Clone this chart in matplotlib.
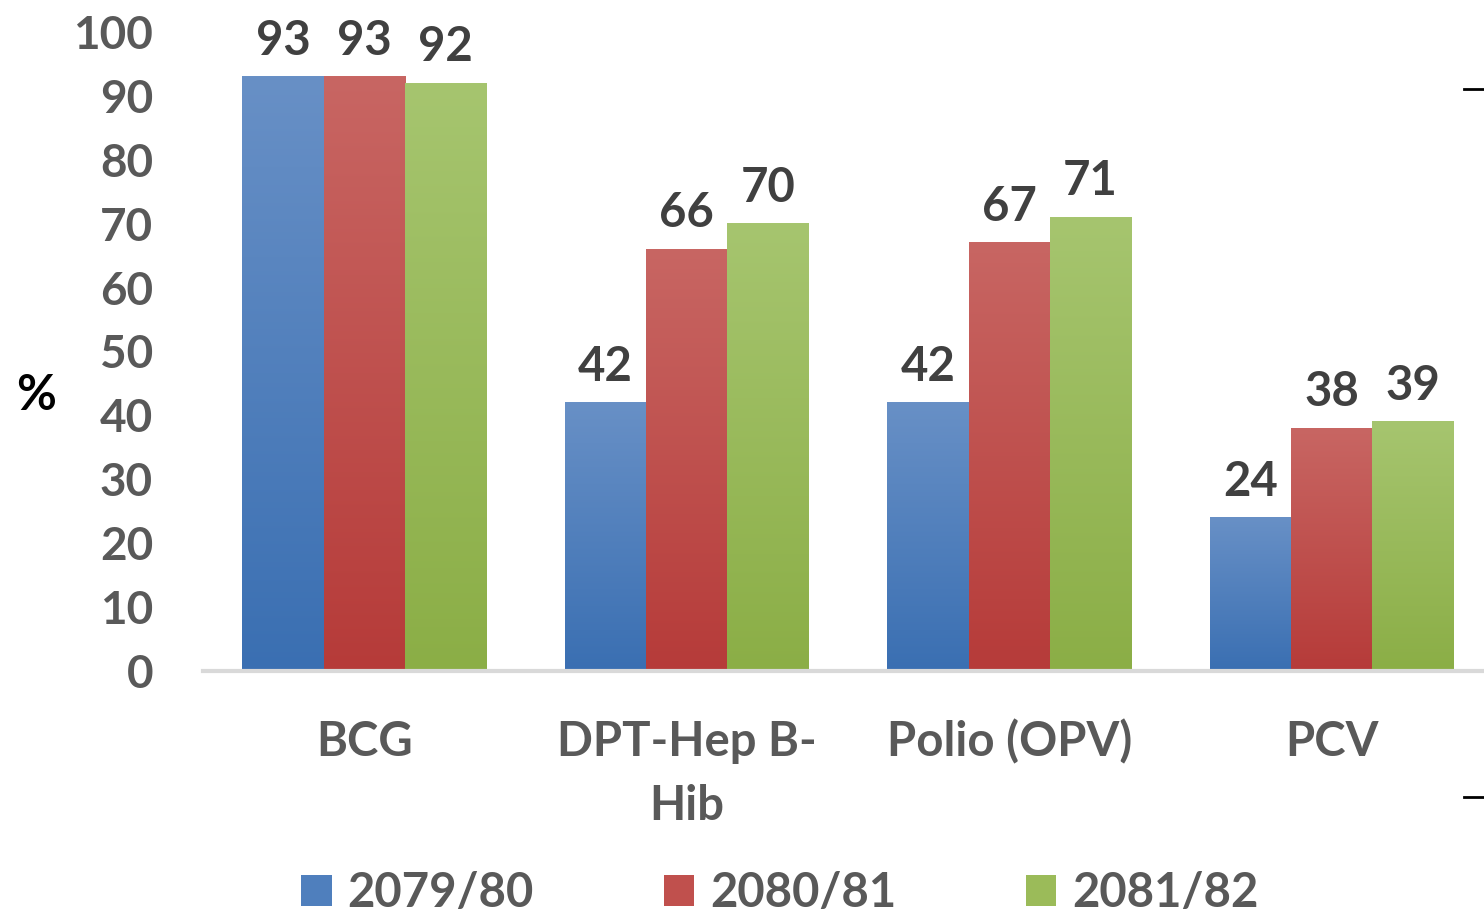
import numpy as np
import matplotlib.pyplot as plt
from matplotlib.colors import LinearSegmentedColormap
from matplotlib.patches import Patch

plt.rcParams['font.family'] = ['Lato', 'DejaVu Sans']
plt.rcParams['font.weight'] = 'bold'

categories = ['BCG', 'DPT-Hep B-\nHib', 'Polio (OPV)', 'PCV']
years = ['2079/80', '2080/81', '2081/82']
v2079 = [93, 42, 42, 24]
v2080 = [93, 66, 67, 38]
v2081 = [92, 70, 71, 39]
yticks = [0, 10, 20, 30, 40, 50, 60, 70, 80, 90, 100]

# top colour, bottom colour for each series
grads = [('#6890c6', '#3a6fb2'), ('#c86663', '#b63b39'), ('#a6c56f', '#8bae46')]
mids = ['#4f7fbd', '#c0504d', '#9bbb59']

fig = plt.figure(figsize=(14.84, 9.16), dpi=100)
ax = fig.add_axes([203 / 1484, (916 - 671) / 916, (1484 - 203) / 1484, 639 / 916])

w = 0.252
x = np.arange(len(categories))
grad = np.linspace(1, 0, 256).reshape(-1, 1)
for i, vals in enumerate([v2079, v2080, v2081]):
    cmap = LinearSegmentedColormap.from_list('g%d' % i, [grads[i][1], grads[i][0]])
    for xc, v in zip(x + (i - 1) * w, vals):
        ax.imshow(grad, extent=(xc - w / 2, xc + w / 2, 0, v), aspect='auto',
                  cmap=cmap, vmin=0, vmax=1, zorder=2)
        ax.annotate(str(v), (xc, v), xytext=(0, 10), textcoords='offset points',
                    ha='center', va='bottom', fontsize=34, fontweight='bold',
                    color='#404040')

ax.set_xlim(-0.5, 3.5 - 9 / 322.5)
ax.set_ylim(0, 100)
ax.set_yticks(yticks)
ax.tick_params(axis='y', length=0, labelsize=33, labelcolor='#595959', pad=36)
ax.set_xticks(x)
ax.set_xticklabels(categories, fontsize=34, color='#595959', linespacing=1.57)
ax.tick_params(axis='x', length=0, pad=35)
for s in ax.spines.values():
    s.set_visible(False)
ax.axhline(0, color='#d9d9d9', lw=3, zorder=3, clip_on=False)

fig.text(36 / 1484, 1 - 395 / 916, '%', fontsize=35, fontweight='bold',
         color='black', ha='center', va='center')

handles = [Patch(facecolor=c, edgecolor='none') for c in mids]
fig.legend(handles, years, loc='center', bbox_to_anchor=(780 / 1484, 1 - 893 / 916),
           ncol=3, frameon=False, fontsize=34, labelcolor='#595959',
           handlelength=0.64, handleheight=0.64, handletextpad=0.34, columnspacing=2.75)

# small marks at right edge
fig.add_artist(plt.Line2D([1464 / 1484, 1], [1 - 89 / 916] * 2, color='black', lw=2))
fig.add_artist(plt.Line2D([1464 / 1484, 1], [1 - 797 / 916] * 2, color='black', lw=2))

fig.savefig('out.png', dpi=100)
